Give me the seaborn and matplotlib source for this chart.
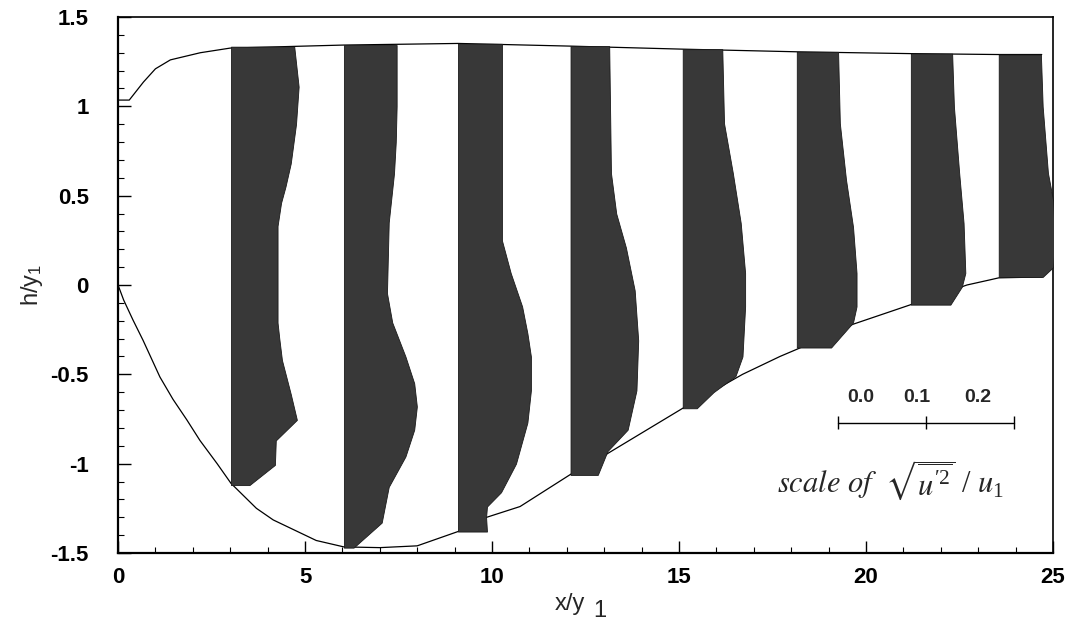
import numpy as np
import pandas as pd
import matplotlib
matplotlib.use("Agg")
import matplotlib.pyplot as plt
from matplotlib.ticker import MultipleLocator
import seaborn as sns

# Upper free surface and lower boundary of the flow, in x/y1 and h/y1
upper_x = [0.0, 0.3, 0.68, 1.0, 1.4, 2.2, 3.0, 6.04, 9.1, 12.1, 15.1, 18.2, 21.2, 23.5, 24.7]
upper_h = [1.035, 1.035, 1.136, 1.21, 1.26, 1.30, 1.326, 1.343, 1.352, 1.337, 1.32, 1.305, 1.295, 1.29, 1.29]

lower_x = [0.0, 0.15, 0.4, 0.67, 1.12, 1.47, 1.84, 2.19, 2.65, 3.02, 3.7, 4.15, 4.7, 5.3, 6.04,
           7.0, 8.0, 9.09, 9.86, 10.75, 12.1, 13.07, 15.1, 16.7, 17.7, 18.15, 19.65, 21.2,
           22.7, 23.3, 23.55, 24.7, 25.0]
lower_h = [0.0, -0.084, -0.196, -0.31, -0.515, -0.64, -0.755, -0.87, -1.0, -1.11, -1.25, -1.315,
           -1.37, -1.43, -1.466, -1.47, -1.46, -1.38, -1.30, -1.24, -1.06, -0.946, -0.69, -0.50,
           -0.40, -0.36, -0.22, -0.11, 0.0, 0.028, 0.04, 0.045, 0.1]

# Measuring stations and turbulence intensity profiles sqrt(u'^2)/u1
stations = [3.02, 6.04, 9.09, 12.1, 15.1, 18.15, 21.2, 23.55]

prof1_h = [1.334, 1.11, 0.90, 0.68, 0.55, 0.46, 0.33, -0.21, -0.30, -0.42, -0.61, -0.755, -0.87, -1.007, -1.12]
prof1_u = [0.072, 0.077, 0.074, 0.068, 0.062, 0.057, 0.053, 0.053, 0.055, 0.058, 0.068, 0.075, 0.051, 0.050, 0.021]

prof2_h = [1.343, 1.0, 0.8, 0.625, 0.35, -0.045, -0.21, -0.40, -0.55, -0.68, -0.81, -0.96, -1.13, -1.33, -1.47]
prof2_u = [0.060, 0.060, 0.059, 0.057, 0.051, 0.049, 0.055, 0.070, 0.080, 0.083, 0.080, 0.070, 0.051, 0.043, 0.011]

prof3_h = [1.35, 0.25, 0.067, -0.12, -0.27, -0.40, -0.59, -0.77, -1.0, -1.16, -1.24, -1.30, -1.38]
prof3_u = [0.050, 0.050, 0.060, 0.073, 0.079, 0.083, 0.083, 0.079, 0.066, 0.049, 0.033, 0.032, 0.033]

prof4_h = [1.337, 0.627, 0.40, 0.21, -0.03, -0.31, -0.59, -0.81, -0.93, -1.063]
prof4_u = [0.044, 0.046, 0.052, 0.063, 0.073, 0.077, 0.075, 0.065, 0.042, 0.031]

prof5_h = [1.32, 0.905, 0.627, 0.347, 0.067, -0.12, -0.40, -0.51, -0.60, -0.69]
prof5_u = [0.045, 0.047, 0.057, 0.066, 0.071, 0.071, 0.068, 0.060, 0.035, 0.016]

prof6_h = [1.305, 0.905, 0.59, 0.325, 0.067, -0.12, -0.21, -0.35]
prof6_u = [0.047, 0.049, 0.056, 0.064, 0.068, 0.068, 0.064, 0.039]

prof7_h = [1.295, 1.0, 0.627, 0.347, 0.067, -0.01, -0.11]
prof7_u = [0.047, 0.049, 0.055, 0.060, 0.062, 0.058, 0.045]

prof8_h = [1.29, 1.0, 0.627, 0.47, 0.25, 0.1, 0.045]
prof8_u = [0.048, 0.050, 0.056, 0.062, 0.064, 0.062, 0.050]

profiles_h = [prof1_h, prof2_h, prof3_h, prof4_h, prof5_h, prof6_h, prof7_h, prof8_h]
profiles_u = [prof1_u, prof2_u, prof3_u, prof4_u, prof5_u, prof6_u, prof7_u, prof8_u]

# Scale bar for the turbulence intensity
scale_values = [0.0, 0.1, 0.2]
scale_labels = ["0.0", "0.1", "0.2"]

# horizontal plot units per unit of sqrt(u'^2)/u1
U_SCALE = 23.5

sns.set_theme(style="ticks")
plt.rcParams["font.family"] = ["Liberation Sans", "DejaVu Sans"]
plt.rcParams["mathtext.default"] = "regular"

fig = plt.figure(figsize=(10.74, 6.39), dpi=100)
ax = fig.add_axes([0.1099, 0.1346, 0.8705, 0.8388])

boundary = pd.concat([
    pd.DataFrame({"x": upper_x, "h": upper_h, "edge": "upper"}),
    pd.DataFrame({"x": lower_x, "h": lower_h, "edge": "lower"}),
])
sns.lineplot(data=boundary, x="x", y="h", units="edge", estimator=None, sort=False,
             color="black", linewidth=0.9, ax=ax, zorder=2)

fill_color = "#383838"
for x0, hh, uu in zip(stations, profiles_h, profiles_u):
    hh = np.asarray(hh)
    xr = x0 + np.asarray(uu) * U_SCALE
    ax.fill_betweenx(hh, x0, xr, color=fill_color, linewidth=0.6,
                     edgecolor="#1a1a1a", zorder=3)

# scale bar
bar_x0, bar_h = 19.25, -0.77
bar_ticks = [bar_x0 + v * U_SCALE for v in scale_values]
ax.plot([bar_ticks[0], bar_ticks[-1]], [bar_h, bar_h], color="black", linewidth=1.0, zorder=4)
ax.vlines(bar_ticks, bar_h - 0.035, bar_h + 0.035, color="black", linewidth=1.0, zorder=4)
label_x = [19.87, 21.36, 23.0]
for lx, lab in zip(label_x, scale_labels):
    ax.text(lx, -0.627, lab, ha="center", va="center", fontsize=14, fontweight="bold")

ax.text(17.62, -1.16,
        r"$\mathit{scale\ of}\ \ \sqrt{\overline{\mathit{u}^{\prime 2}}}\ /\ \mathit{u}_{1}$",
        math_fontfamily="stix", family="Liberation Serif", fontsize=22,
        ha="left", va="baseline")

ax.set_xlim(0, 25)
ax.set_ylim(-1.5, 1.5)
ax.xaxis.set_minor_locator(MultipleLocator(1))
ax.yaxis.set_minor_locator(MultipleLocator(0.1))
ax.set_xticks([0, 5, 10, 15, 20, 25])
ax.set_xticklabels(["0", "5", "10", "15", "20", "25"])
ax.set_yticks([-1.5, -1, -0.5, 0, 0.5, 1, 1.5])
ax.set_yticklabels(["-1.5", "-1", "-0.5", "0", "0.5", "1", "1.5"])
for lab in ax.get_xticklabels() + ax.get_yticklabels():
    lab.set_fontweight("bold")

ax.tick_params(axis="both", which="both", direction="in", top=False, right=False,
               colors="black", labelsize=16)
ax.tick_params(axis="y", which="major", length=9, width=1.0, pad=21)
ax.tick_params(axis="y", which="minor", length=4, width=0.8)
ax.tick_params(axis="x", which="major", length=9, width=1.0, pad=10)
ax.tick_params(axis="x", which="minor", length=4, width=0.8)

for side in ["left", "bottom"]:
    ax.spines[side].set_linewidth(1.6)
for side in ["top", "right"]:
    ax.spines[side].set_linewidth(1.2)
for sp in ax.spines.values():
    sp.set_color("black")

ax.set_ylabel(r"h/y$_1$", fontsize=17, labelpad=4)
ax.set_xlabel("x/y", fontsize=17, labelpad=8)
ax.xaxis.set_label_coords(0.483, -0.075)
ax.annotate("1", xy=(1, 0.5), xycoords=ax.xaxis.label, xytext=(6, -5),
            textcoords="offset points", ha="left", va="center", fontsize=17)

fig.patch.set_facecolor("white")
ax.set_facecolor("white")
fig.savefig("out.png", dpi=100, facecolor="white")
